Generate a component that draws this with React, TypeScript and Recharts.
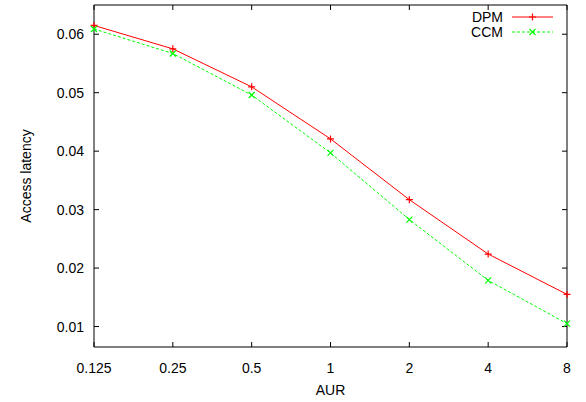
import { LineChart, Line, XAxis, YAxis, Legend } from "recharts";

const aurLabels = ["0.125", "0.25", "0.5", "1", "2", "4", "8"];
const dpmLatency = [0.0615, 0.0575, 0.051, 0.0421, 0.0317, 0.0224, 0.0155];
const ccmLatency = [0.0609, 0.0567, 0.0496, 0.0397, 0.0283, 0.0179, 0.0105];
const yTicks = [0.01, 0.02, 0.03, 0.04, 0.05, 0.06];

const data = aurLabels.map((aur, i) => ({ aur, dpm: dpmLatency[i], ccm: ccmLatency[i] }));

const FONT = "'Liberation Sans', Arial, Helvetica, sans-serif";
const tickStyle = { fill: "#000", fontSize: 14, fontFamily: FONT };

function PlusDot(props: any) {
  const { cx, cy, key } = props;
  if (cx == null || cy == null) return null;
  return (
    <path
      key={key}
      d={`M${cx - 3.5},${cy}H${cx + 3.5}M${cx},${cy - 3.5}V${cy + 3.5}`}
      stroke="#ff0000"
      strokeWidth={1.2}
      fill="none"
    />
  );
}

function CrossDot(props: any) {
  const { cx, cy, key } = props;
  if (cx == null || cy == null) return null;
  return (
    <path
      key={key}
      d={`M${cx - 3},${cy - 3}L${cx + 3},${cy + 3}M${cx - 3},${cy + 3}L${cx + 3},${cy - 3}`}
      stroke="#00ff00"
      strokeWidth={1.2}
      fill="none"
    />
  );
}

function LegendBox() {
  const rows = [
    { name: "DPM", color: "#ff0000", dash: undefined, Dot: PlusDot },
    { name: "CCM", color: "#00ff00", dash: "3 2", Dot: CrossDot },
  ];
  return (
    <svg width={586} height={45}>
      {rows.map((r, i) => {
        const y = 17 + i * 15;
        return (
          <g key={r.name}>
            <text x={503} y={y} textAnchor="end" dominantBaseline="central" fontSize={14} fontFamily={FONT} fill="#000">
              {r.name}
            </text>
            <line x1={512} x2={553} y1={y} y2={y} stroke={r.color} strokeWidth={1} strokeDasharray={r.dash} />
            <r.Dot cx={532.5} cy={y} />
          </g>
        );
      })}
    </svg>
  );
}

function YLabel(props: any) {
  const vb = props.viewBox || {};
  const cx = 26;
  const cy = vb.y + vb.height / 2;
  return (
    <text
      x={cx}
      y={cy}
      transform={`rotate(-90, ${cx}, ${cy})`}
      textAnchor="middle"
      dominantBaseline="central"
      fontSize={14}
      fontFamily={FONT}
      fill="#000"
    >
      Access latency
    </text>
  );
}

export default function App() {
  return (
    <div style={{ position: "absolute", left: 0, top: 0, width: 586, height: 402, background: "#fff" }}>
      <LineChart width={586} height={402} data={data} margin={{ top: 0, right: 0, bottom: 0, left: 0 }}>
        <XAxis
          dataKey="aur"
          xAxisId="bottom"
          height={55}
          stroke="#000"
          tick={tickStyle}
          tickSize={-5}
          tickMargin={21}
          interval={0}
          label={{ value: "AUR", position: "insideBottom", offset: 7, fill: "#000", fontSize: 14, fontFamily: FONT }}
        />
        <XAxis
          dataKey="aur"
          xAxisId="top"
          orientation="top"
          height={5}
          stroke="#000"
          tickSize={-5}
          interval={0}
          tickFormatter={() => ""}
        />
        <YAxis
          yAxisId="left"
          width={94}
          domain={[0.0065, 0.065]}
          ticks={yTicks}
          stroke="#000"
          tick={tickStyle}
          tickSize={-5}
          tickMargin={15}
          allowDataOverflow
          label={{ content: YLabel }}
        />
        <YAxis
          yAxisId="right"
          orientation="right"
          width={19}
          domain={[0.0065, 0.065]}
          ticks={yTicks}
          stroke="#000"
          tickSize={-5}
          tickFormatter={() => ""}
          allowDataOverflow
        />
        <Legend
          layout="horizontal"
          verticalAlign="middle"
          align="center"
          wrapperStyle={{ top: 0, left: 0, width: 586, height: 45 }}
          content={() => <LegendBox />}
        />
        <Line
          xAxisId="bottom"
          yAxisId="left"
          type="linear"
          dataKey="dpm"
          name="DPM"
          stroke="#ff0000"
          strokeWidth={1}
          dot={PlusDot}
          activeDot={false}
          isAnimationActive={false}
        />
        <Line
          xAxisId="bottom"
          yAxisId="left"
          type="linear"
          dataKey="ccm"
          name="CCM"
          stroke="#00ff00"
          strokeWidth={1}
          strokeDasharray="3 2"
          dot={CrossDot}
          activeDot={false}
          isAnimationActive={false}
        />
      </LineChart>
    </div>
  );
}
